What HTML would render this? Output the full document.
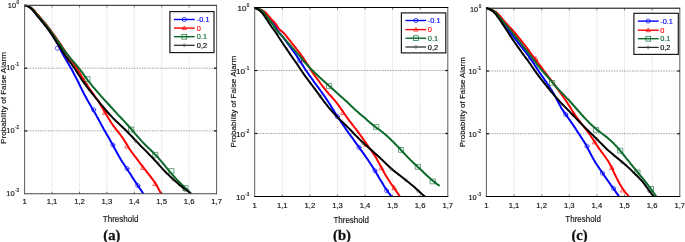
<!DOCTYPE html>
<html lang="en"><head><meta charset="utf-8"><title>Probability of False Alarm vs Threshold</title>
<style>html,body{margin:0;padding:0;background:#fff}body{width:685px;height:242px;overflow:hidden}svg{display:block}</style>
</head><body>
<svg width="685" height="242" viewBox="0 0 685 242" font-family="'Liberation Sans', Arial, sans-serif">
<rect width="685" height="242" fill="#fff"/>
<line x1="52" y1="5.4" x2="52" y2="193.7" stroke="#a8a8a8" stroke-width="0.55" stroke-dasharray="0.8 1.3"/>
<line x1="79.5" y1="5.4" x2="79.5" y2="193.7" stroke="#a8a8a8" stroke-width="0.55" stroke-dasharray="0.8 1.3"/>
<line x1="106.9" y1="5.4" x2="106.9" y2="193.7" stroke="#a8a8a8" stroke-width="0.55" stroke-dasharray="0.8 1.3"/>
<line x1="134.3" y1="5.4" x2="134.3" y2="193.7" stroke="#a8a8a8" stroke-width="0.55" stroke-dasharray="0.8 1.3"/>
<line x1="161.7" y1="5.4" x2="161.7" y2="193.7" stroke="#a8a8a8" stroke-width="0.55" stroke-dasharray="0.8 1.3"/>
<line x1="189.2" y1="5.4" x2="189.2" y2="193.7" stroke="#a8a8a8" stroke-width="0.55" stroke-dasharray="0.8 1.3"/>
<line x1="24.6" y1="68.2" x2="216.6" y2="68.2" stroke="#6e6e6e" stroke-width="0.6" stroke-dasharray="1.6 1"/>
<line x1="24.6" y1="130.9" x2="216.6" y2="130.9" stroke="#6e6e6e" stroke-width="0.6" stroke-dasharray="1.6 1"/>
<clipPath id="cp0"><rect x="24.6" y="4.4" width="192" height="189.7"/></clipPath>
<g clip-path="url(#cp0)" fill="none" stroke-linejoin="round" stroke-linecap="round">
<path d="M24.8 5.4 L26.7 5.9 L28.6 6.7 L30.3 7.7 L31.8 8.9 L33.2 10.3 L34.5 11.9 L35.7 13.5 L37 15 L38.3 16.6 L39.6 18.1 L40.9 19.6 L42.1 21.2 L43.4 22.7 L44.6 24.3 L45.9 25.9 L47.1 27.5 L48.3 29.1 L49.4 30.7 L50.6 32.4 L51.7 34 L52.8 35.7 L53.9 37.4 L54.9 39.1 L55.9 40.8 L56.8 42.6 L57.8 44.3 L58.7 46.1 L59.6 47.9 L60.5 49.7 L61.4 51.5 L62.4 53.2 L63.3 55 L64.3 56.7 L65.3 58.5 L66.3 60.2 L67.3 61.9 L68.3 63.6 L69.3 65.4 L70.3 67.1 L71.3 68.8 L72.3 70.6 L73.2 72.3 L74.1 74.1 L75.1 75.9 L76 77.7 L76.9 79.4 L77.8 81.2 L78.7 83 L79.5 84.8 L80.4 86.6 L81.3 88.4 L82.2 90.2 L83.1 92 L84 93.8 L84.9 95.5 L85.9 97.3 L86.8 99 L87.8 100.8 L88.8 102.5 L89.8 104.3 L90.8 106 L91.8 107.7 L92.9 109.4 L93.9 111.2 L94.9 112.9 L95.9 114.6 L96.8 116.4 L97.8 118.1 L98.8 119.9 L99.7 121.6 L100.7 123.4 L101.6 125.2 L102.6 126.9 L103.5 128.7 L104.5 130.4 L105.5 132.1 L106.5 133.9 L107.5 135.6 L108.5 137.3 L109.5 139.1 L110.4 140.8 L111.4 142.6 L112.4 144.3 L113.4 146.1 L114.3 147.8 L115.2 149.6 L116.2 151.3 L117.1 153.1 L118.1 154.8 L119.1 156.6 L120.1 158.3 L121.1 160 L122.2 161.7 L123.3 163.3 L124.4 165 L125.5 166.7 L126.6 168.3 L127.7 170 L128.8 171.7 L129.9 173.3 L131 175 L132 176.7 L133.1 178.4 L134.2 180.1 L135.3 181.7 L136.4 183.4 L137.4 185 L138.5 186.6 L139.6 188.2 L140.6 189.7 L141.7 191.2 L142.7 192.7 L143.2 193.5" stroke="#0000ff" stroke-width="2"/>
<circle cx="57.4" cy="48.3" r="2.1" fill="none" stroke="#0000ff" stroke-width="0.6"/>
<circle cx="93.6" cy="109.7" r="2.1" fill="none" stroke="#0000ff" stroke-width="0.6"/>
<circle cx="112.8" cy="145" r="2.1" fill="none" stroke="#0000ff" stroke-width="0.6"/>
<circle cx="127" cy="168.5" r="2.1" fill="none" stroke="#0000ff" stroke-width="0.6"/>
<circle cx="137.8" cy="185.5" r="2.1" fill="none" stroke="#0000ff" stroke-width="0.6"/>
<path d="M24.8 5.4 L26.8 5.8 L28.7 6.4 L30.4 7.3 L32 8.4 L33.5 9.7 L34.8 11.2 L36.1 12.8 L37.4 14.3 L38.8 15.8 L40.1 17.3 L41.4 18.8 L42.7 20.3 L44 21.9 L45.3 23.4 L46.6 25 L47.8 26.5 L49 28.1 L50.3 29.7 L51.4 31.3 L52.6 32.9 L53.8 34.6 L54.9 36.2 L56.1 37.8 L57.2 39.5 L58.3 41.1 L59.5 42.8 L60.6 44.4 L61.7 46.1 L62.8 47.8 L63.9 49.4 L65 51.1 L66.2 52.8 L67.3 54.4 L68.4 56 L69.6 57.7 L70.7 59.3 L71.9 61 L73 62.6 L74.1 64.2 L75.3 65.9 L76.4 67.5 L77.4 69.2 L78.5 70.9 L79.5 72.6 L80.5 74.3 L81.5 76.1 L82.6 77.8 L83.6 79.5 L84.6 81.2 L85.7 82.9 L86.8 84.6 L87.8 86.3 L88.9 87.9 L90.1 89.6 L91.2 91.2 L92.4 92.8 L93.5 94.4 L94.7 96.1 L95.8 97.7 L97 99.3 L98.1 101 L99.2 102.7 L100.2 104.4 L101.3 106.1 L102.3 107.8 L103.3 109.5 L104.3 111.2 L105.4 112.9 L106.4 114.7 L107.4 116.4 L108.4 118.1 L109.4 119.8 L110.5 121.5 L111.6 123.2 L112.7 124.8 L113.9 126.4 L115.1 128 L116.3 129.6 L117.5 131.1 L118.7 132.6 L120 134.2 L121.1 135.8 L122.3 137.4 L123.4 139 L124.5 140.7 L125.5 142.4 L126.6 144.1 L127.6 145.8 L128.6 147.5 L129.7 149.2 L130.8 150.8 L132 152.5 L133.2 154.1 L134.4 155.7 L135.6 157.2 L136.8 158.8 L138 160.4 L139.2 162 L140.4 163.6 L141.6 165.2 L142.8 166.8 L144 168.4 L145.3 169.9 L146.5 171.5 L147.8 173.1 L149 174.6 L150.2 176.2 L151.4 177.8 L152.6 179.4 L153.8 181 L154.9 182.6 L155.9 184.3 L156.9 185.9 L157.8 187.5 L158.7 189.2 L159.5 190.8 L160.3 192.4 L160.7 193.2" stroke="#ff0000" stroke-width="2"/>
<path d="M67.7 61.3 L71.9 61.3 L69.8 57.6 Z" fill="none" stroke="#ff0000" stroke-width="0.6"/>
<path d="M102.9 114.5 L107.1 114.5 L105 110.8 Z" fill="none" stroke="#ff0000" stroke-width="0.6"/>
<path d="M125.1 148 L129.3 148 L127.2 144.3 Z" fill="none" stroke="#ff0000" stroke-width="0.6"/>
<path d="M141.1 169.5 L145.3 169.5 L143.2 165.8 Z" fill="none" stroke="#ff0000" stroke-width="0.6"/>
<path d="M153.2 185.5 L157.4 185.5 L155.3 181.8 Z" fill="none" stroke="#ff0000" stroke-width="0.6"/>
<path d="M24.8 5.4 L26.8 5.8 L28.6 6.5 L30.4 7.4 L31.9 8.6 L33.3 10 L34.7 11.5 L36 13.1 L37.3 14.6 L38.6 16.1 L39.9 17.7 L41.2 19.2 L42.5 20.7 L43.8 22.2 L45 23.8 L46.3 25.4 L47.5 26.9 L48.7 28.5 L50 30.1 L51.1 31.7 L52.3 33.3 L53.5 35 L54.6 36.6 L55.8 38.2 L56.9 39.9 L58.1 41.5 L59.2 43.2 L60.4 44.8 L61.5 46.4 L62.7 48.1 L63.8 49.7 L65 51.3 L66.2 52.9 L67.4 54.5 L68.7 56 L69.9 57.6 L71.2 59.1 L72.5 60.7 L73.8 62.2 L75.1 63.7 L76.4 65.2 L77.7 66.7 L78.9 68.3 L80.2 69.8 L81.4 71.4 L82.6 73 L83.7 74.7 L84.9 76.3 L86.1 77.9 L87.2 79.5 L88.4 81.1 L89.7 82.7 L90.9 84.2 L92.2 85.8 L93.5 87.3 L94.8 88.8 L96.1 90.3 L97.4 91.9 L98.7 93.4 L100 94.9 L101.3 96.4 L102.7 97.9 L104 99.4 L105.3 100.9 L106.7 102.3 L108 103.8 L109.4 105.3 L110.7 106.7 L112.1 108.2 L113.4 109.7 L114.8 111.2 L116.1 112.6 L117.5 114.1 L118.8 115.6 L120.2 117 L121.6 118.5 L122.9 119.9 L124.3 121.4 L125.7 122.8 L127 124.3 L128.4 125.8 L129.7 127.3 L131.1 128.8 L132.4 130.3 L133.6 131.8 L134.9 133.4 L136.2 134.9 L137.5 136.4 L138.8 137.9 L140.1 139.4 L141.4 140.9 L142.8 142.4 L144.2 143.8 L145.6 145.2 L147 146.6 L148.5 148 L149.9 149.3 L151.3 150.7 L152.8 152.1 L154.2 153.6 L155.6 155 L157 156.4 L158.3 157.9 L159.6 159.4 L160.9 160.9 L162.2 162.4 L163.5 164 L164.8 165.5 L166 167.1 L167.3 168.6 L168.5 170.1 L169.8 171.7 L171.1 173.2 L172.4 174.7 L173.8 176.2 L175.1 177.7 L176.4 179.2 L177.8 180.6 L179.2 182 L180.6 183.4 L182 184.8 L183.4 186.2 L184.7 187.5 L186.1 188.8 L187.4 190 L188.7 191.3 L190 192.5 L190 192.5" stroke="#0b6a2b" stroke-width="2"/>
<rect x="85.2" y="76.6" width="4.8" height="4.8" fill="none" stroke="#0b6a2b" stroke-width="0.6"/>
<rect x="128.9" y="127.1" width="4.8" height="4.8" fill="none" stroke="#0b6a2b" stroke-width="0.6"/>
<rect x="153.1" y="152.4" width="4.8" height="4.8" fill="none" stroke="#0b6a2b" stroke-width="0.6"/>
<rect x="169.1" y="168.6" width="4.8" height="4.8" fill="none" stroke="#0b6a2b" stroke-width="0.6"/>
<rect x="183.1" y="185.6" width="4.8" height="4.8" fill="none" stroke="#0b6a2b" stroke-width="0.6"/>
<path d="M24.8 5.4 L26.7 5.9 L28.6 6.7 L30.2 7.8 L31.7 9.1 L33 10.5 L34.3 12.1 L35.6 13.7 L36.8 15.3 L38.1 16.8 L39.4 18.4 L40.6 19.9 L41.9 21.5 L43.1 23 L44.4 24.6 L45.6 26.2 L46.9 27.7 L48.1 29.3 L49.3 30.9 L50.4 32.6 L51.5 34.2 L52.6 35.9 L53.7 37.6 L54.7 39.3 L55.8 41 L56.9 42.7 L58 44.4 L59.1 46 L60.2 47.7 L61.3 49.4 L62.4 51.1 L63.5 52.7 L64.6 54.4 L65.7 56 L66.9 57.6 L68.1 59.3 L69.2 60.9 L70.4 62.5 L71.6 64.1 L72.7 65.7 L73.9 67.4 L75 69 L76.1 70.7 L77.2 72.4 L78.2 74.1 L79.3 75.7 L80.4 77.4 L81.4 79.1 L82.5 80.8 L83.7 82.4 L84.8 84 L86 85.6 L87.2 87.2 L88.5 88.8 L89.7 90.3 L90.9 91.9 L92.2 93.5 L93.4 95 L94.7 96.6 L95.9 98.2 L97.2 99.7 L98.5 101.2 L99.8 102.8 L101 104.3 L102.3 105.9 L103.6 107.4 L104.9 108.9 L106.1 110.5 L107.4 112 L108.8 113.5 L110.1 115 L111.5 116.4 L112.8 117.9 L114.2 119.3 L115.7 120.7 L117.1 122.1 L118.6 123.4 L120 124.8 L121.5 126.2 L122.9 127.5 L124.4 128.9 L125.8 130.3 L127.2 131.7 L128.6 133.2 L130 134.6 L131.4 136 L132.8 137.5 L134.1 139 L135.5 140.4 L136.9 141.9 L138.3 143.3 L139.7 144.7 L141.1 146.2 L142.5 147.6 L143.9 149 L145.3 150.4 L146.7 151.8 L148.1 153.2 L149.5 154.7 L150.9 156.1 L152.3 157.5 L153.7 159 L155 160.5 L156.4 161.9 L157.7 163.4 L159 164.9 L160.3 166.4 L161.7 167.9 L163 169.4 L164.4 170.8 L165.8 172.2 L167.2 173.7 L168.7 175 L170.1 176.4 L171.6 177.8 L173.1 179.1 L174.5 180.5 L176 181.8 L177.5 183.1 L179 184.4 L180.5 185.7 L182.1 186.9 L183.6 188.1 L185.1 189.3 L186.7 190.4 L188.2 191.4 L189.7 192.5 L190.5 193" stroke="#000000" stroke-width="2"/>
<path d="M85.7 84.7 L87 82.9 L88.3 84.7 L87 86.5 Z" fill="none" stroke="#444" stroke-width="0.5"/>
<path d="M134.7 141 L136 139.2 L137.3 141 L136 142.8 Z" fill="none" stroke="#444" stroke-width="0.5"/>
<path d="M156.7 163 L158 161.2 L159.3 163 L158 164.8 Z" fill="none" stroke="#444" stroke-width="0.5"/>
<path d="M171.7 179 L173 177.2 L174.3 179 L173 180.8 Z" fill="none" stroke="#444" stroke-width="0.5"/>
<path d="M183.7 190 L185 188.2 L186.3 190 L185 191.8 Z" fill="none" stroke="#444" stroke-width="0.5"/>
</g>
<path d="M24.6 4.9 V194.2 M216.6 4.9 V194.2" fill="none" stroke="#4a4a4a" stroke-width="0.9"/>
<path d="M24.2 5.4 H217 M24.2 193.7 H217" fill="none" stroke="#4a4a4a" stroke-width="1.1"/>
<line x1="52" y1="193.7" x2="52" y2="191.7" stroke="#3a3a3a" stroke-width="0.7"/>
<line x1="52" y1="5.4" x2="52" y2="7.4" stroke="#3a3a3a" stroke-width="0.7"/>
<line x1="79.5" y1="193.7" x2="79.5" y2="191.7" stroke="#3a3a3a" stroke-width="0.7"/>
<line x1="79.5" y1="5.4" x2="79.5" y2="7.4" stroke="#3a3a3a" stroke-width="0.7"/>
<line x1="106.9" y1="193.7" x2="106.9" y2="191.7" stroke="#3a3a3a" stroke-width="0.7"/>
<line x1="106.9" y1="5.4" x2="106.9" y2="7.4" stroke="#3a3a3a" stroke-width="0.7"/>
<line x1="134.3" y1="193.7" x2="134.3" y2="191.7" stroke="#3a3a3a" stroke-width="0.7"/>
<line x1="134.3" y1="5.4" x2="134.3" y2="7.4" stroke="#3a3a3a" stroke-width="0.7"/>
<line x1="161.7" y1="193.7" x2="161.7" y2="191.7" stroke="#3a3a3a" stroke-width="0.7"/>
<line x1="161.7" y1="5.4" x2="161.7" y2="7.4" stroke="#3a3a3a" stroke-width="0.7"/>
<line x1="189.2" y1="193.7" x2="189.2" y2="191.7" stroke="#3a3a3a" stroke-width="0.7"/>
<line x1="189.2" y1="5.4" x2="189.2" y2="7.4" stroke="#3a3a3a" stroke-width="0.7"/>
<line x1="24.6" y1="68.2" x2="27.2" y2="68.2" stroke="#111" stroke-width="1.2"/>
<line x1="216.6" y1="68.2" x2="214" y2="68.2" stroke="#111" stroke-width="1.2"/>
<line x1="24.6" y1="130.9" x2="27.2" y2="130.9" stroke="#111" stroke-width="1.2"/>
<line x1="216.6" y1="130.9" x2="214" y2="130.9" stroke="#111" stroke-width="1.2"/>
<text x="24.6" y="204.4" font-size="7.7" text-anchor="middle" fill="#111" stroke="#111" stroke-width="0.15">1</text>
<text x="52" y="204.4" font-size="7.7" text-anchor="middle" fill="#111" stroke="#111" stroke-width="0.15">1,1</text>
<text x="79.5" y="204.4" font-size="7.7" text-anchor="middle" fill="#111" stroke="#111" stroke-width="0.15">1,2</text>
<text x="106.9" y="204.4" font-size="7.7" text-anchor="middle" fill="#111" stroke="#111" stroke-width="0.15">1,3</text>
<text x="134.3" y="204.4" font-size="7.7" text-anchor="middle" fill="#111" stroke="#111" stroke-width="0.15">1,4</text>
<text x="161.7" y="204.4" font-size="7.7" text-anchor="middle" fill="#111" stroke="#111" stroke-width="0.15">1,5</text>
<text x="189.2" y="204.4" font-size="7.7" text-anchor="middle" fill="#111" stroke="#111" stroke-width="0.15">1,6</text>
<text x="216.6" y="204.4" font-size="7.7" text-anchor="middle" fill="#111" stroke="#111" stroke-width="0.15">1,7</text>
<text x="16.1" y="7.5" font-size="7.4" text-anchor="end" fill="#111" stroke="#111" stroke-width="0.15">10</text>
<text x="19" y="3.5" font-size="4.5" text-anchor="end" fill="#111" stroke="#111" stroke-width="0.15">0</text>
<text x="14.6" y="70.3" font-size="7.4" text-anchor="end" fill="#111" stroke="#111" stroke-width="0.15">10</text>
<text x="19" y="66.3" font-size="4.5" text-anchor="end" fill="#111" stroke="#111" stroke-width="0.15">-1</text>
<text x="14.6" y="133" font-size="7.4" text-anchor="end" fill="#111" stroke="#111" stroke-width="0.15">10</text>
<text x="19" y="129" font-size="4.5" text-anchor="end" fill="#111" stroke="#111" stroke-width="0.15">-2</text>
<text x="14.6" y="195.8" font-size="7.4" text-anchor="end" fill="#111" stroke="#111" stroke-width="0.15">10</text>
<text x="19" y="191.8" font-size="4.5" text-anchor="end" fill="#111" stroke="#111" stroke-width="0.15">-3</text>
<text transform="translate(120.6 221.7) scale(0.955 1)" font-size="8.4" text-anchor="middle" fill="#111" stroke="#111" stroke-width="0.15">Threshold</text>
<text transform="translate(5.9 98) rotate(-90)" font-size="8.1" text-anchor="middle" fill="#111" stroke="#111" stroke-width="0.15">Probability of False Alarm</text>
<rect x="169.9" y="11.6" width="44.1" height="41" fill="#fff" stroke="#1a1a1a" stroke-width="1.2"/>
<line x1="174" y1="19.5" x2="194.7" y2="19.5" stroke="#0000ff" stroke-width="1.4"/>
<circle cx="184.3" cy="19.5" r="2.1" fill="none" stroke="#0000ff" stroke-width="0.7"/>
<text x="196.8" y="22.2" font-size="7.4" fill="#0000ff" stroke="#0000ff" stroke-width="0.15">-0.1</text>
<line x1="174" y1="28.1" x2="194.7" y2="28.1" stroke="#ff0000" stroke-width="1.4"/>
<path d="M182.2 29.6 L186.4 29.6 L184.3 25.9 Z" fill="none" stroke="#ff0000" stroke-width="0.7"/>
<text x="196.8" y="30.8" font-size="7.4" fill="#ff0000" stroke="#ff0000" stroke-width="0.15">0</text>
<line x1="174" y1="36.7" x2="194.7" y2="36.7" stroke="#0b6a2b" stroke-width="1.4"/>
<rect x="181.9" y="34.3" width="4.8" height="4.8" fill="none" stroke="#0b6a2b" stroke-width="0.7"/>
<text x="196.8" y="39.4" font-size="7.4" fill="#0b6a2b" stroke="#0b6a2b" stroke-width="0.15">0.1</text>
<line x1="174" y1="45.3" x2="194.7" y2="45.3" stroke="#2a2a2a" stroke-width="1.25"/>
<path d="M183 45.3 L184.3 43.5 L185.7 45.3 L184.3 47.1 Z" fill="none" stroke="#444" stroke-width="0.5"/>
<text x="196.8" y="48" font-size="7.4" fill="#000000" stroke="#000000" stroke-width="0.15">0,2</text>
<text x="111.8" y="240.2" font-family="'Liberation Serif', 'Times New Roman', serif" font-weight="bold" font-size="14.6" text-anchor="middle" fill="#111" stroke="#111" stroke-width="0.3">(a)</text>
<line x1="282.3" y1="7.5" x2="282.3" y2="196.5" stroke="#a8a8a8" stroke-width="0.55" stroke-dasharray="0.8 1.3"/>
<line x1="309.9" y1="7.5" x2="309.9" y2="196.5" stroke="#a8a8a8" stroke-width="0.55" stroke-dasharray="0.8 1.3"/>
<line x1="337.5" y1="7.5" x2="337.5" y2="196.5" stroke="#a8a8a8" stroke-width="0.55" stroke-dasharray="0.8 1.3"/>
<line x1="365" y1="7.5" x2="365" y2="196.5" stroke="#a8a8a8" stroke-width="0.55" stroke-dasharray="0.8 1.3"/>
<line x1="392.6" y1="7.5" x2="392.6" y2="196.5" stroke="#a8a8a8" stroke-width="0.55" stroke-dasharray="0.8 1.3"/>
<line x1="420.2" y1="7.5" x2="420.2" y2="196.5" stroke="#a8a8a8" stroke-width="0.55" stroke-dasharray="0.8 1.3"/>
<line x1="254.7" y1="70.5" x2="447.8" y2="70.5" stroke="#6e6e6e" stroke-width="0.6" stroke-dasharray="1.6 1"/>
<line x1="254.7" y1="133.5" x2="447.8" y2="133.5" stroke="#6e6e6e" stroke-width="0.6" stroke-dasharray="1.6 1"/>
<clipPath id="cp1"><rect x="254.7" y="6.5" width="193.1" height="190.4"/></clipPath>
<g clip-path="url(#cp1)" fill="none" stroke-linejoin="round" stroke-linecap="round">
<path d="M254.7 7.9 L256.7 8.5 L258.6 9.1 L260.4 10 L262 10.9 L263.5 12.2 L264.9 13.6 L266.2 15.2 L267.5 16.8 L268.8 18.3 L270.1 19.8 L271.5 21.4 L272.8 22.9 L274 24.4 L275.2 26.1 L276.2 27.8 L277.2 29.5 L278.2 31.2 L279.4 32.8 L280.7 34.4 L281.9 35.9 L283.2 37.5 L284.4 39.1 L285.6 40.7 L286.8 42.3 L288 43.9 L289.2 45.5 L290.4 47.1 L291.5 48.7 L292.7 50.3 L293.9 51.9 L295.1 53.6 L296.2 55.2 L297.3 56.9 L298.4 58.6 L299.5 60.2 L300.5 61.9 L301.6 63.6 L302.7 65.3 L303.8 67 L304.8 68.7 L305.9 70.3 L307.1 72 L308.2 73.6 L309.3 75.3 L310.5 76.9 L311.7 78.5 L312.9 80.1 L314 81.8 L315.2 83.4 L316.4 85 L317.6 86.6 L318.8 88.2 L319.9 89.8 L321.1 91.5 L322.3 93.1 L323.4 94.7 L324.6 96.3 L325.7 98 L326.8 99.6 L327.9 101.3 L329 103 L330.1 104.7 L331.2 106.4 L332.2 108.1 L333.3 109.8 L334.3 111.5 L335.4 113.2 L336.4 114.9 L337.5 116.5 L338.6 118.2 L339.7 119.9 L340.8 121.6 L341.9 123.2 L343 124.9 L344.2 126.5 L345.3 128.2 L346.4 129.8 L347.6 131.4 L348.7 133.1 L349.9 134.7 L351.1 136.3 L352.3 137.9 L353.5 139.5 L354.6 141.1 L355.8 142.8 L357 144.4 L358.1 146 L359.3 147.6 L360.4 149.3 L361.6 150.9 L362.8 152.5 L363.9 154.1 L365.1 155.8 L366.2 157.4 L367.4 159 L368.5 160.7 L369.6 162.4 L370.7 164 L371.8 165.7 L372.9 167.4 L373.9 169.1 L375 170.8 L376 172.5 L377 174.2 L378.1 175.9 L379.1 177.7 L380.1 179.4 L381.1 181.1 L382.2 182.8 L383.2 184.5 L384.2 186.2 L385.3 187.9 L386.3 189.5 L387.4 191.1 L388.5 192.6 L389.7 194.1 L390.8 195.6 L391.4 196.3" stroke="#0000ff" stroke-width="2"/>
<circle cx="299.8" cy="60.6" r="2.1" fill="none" stroke="#0000ff" stroke-width="0.6"/>
<circle cx="337.3" cy="116.5" r="2.1" fill="none" stroke="#0000ff" stroke-width="0.6"/>
<circle cx="359" cy="147.4" r="2.1" fill="none" stroke="#0000ff" stroke-width="0.6"/>
<circle cx="374.9" cy="170.7" r="2.1" fill="none" stroke="#0000ff" stroke-width="0.6"/>
<circle cx="386.5" cy="190.6" r="2.1" fill="none" stroke="#0000ff" stroke-width="0.6"/>
<path d="M254.7 7.9 L256.8 8.3 L258.8 8.8 L260.6 9.5 L262.4 10.3 L264 11.3 L265.5 12.5 L266.9 14 L268.2 15.6 L269.6 17.1 L270.9 18.6 L272.3 20.1 L273.7 21.5 L275 23.1 L276.2 24.6 L277.3 26.3 L278.4 28 L279.6 29.5 L281.1 30.8 L282.7 32.1 L284.1 33.4 L285.4 34.9 L286.6 36.5 L287.9 38.1 L289.1 39.7 L290.4 41.2 L291.6 42.8 L292.9 44.3 L294.1 45.9 L295.4 47.5 L296.6 49 L297.8 50.6 L299.1 52.2 L300.3 53.8 L301.4 55.4 L302.6 57 L303.7 58.7 L304.8 60.4 L305.9 62 L307 63.7 L308 65.4 L309.1 67.1 L310.1 68.8 L311.2 70.5 L312.3 72.1 L313.5 73.8 L314.6 75.4 L315.8 77 L317 78.6 L318.2 80.2 L319.3 81.8 L320.5 83.5 L321.7 85 L323 86.6 L324.2 88.2 L325.5 89.8 L326.7 91.3 L328 92.8 L329.3 94.3 L330.6 95.8 L332 97.3 L333.3 98.8 L334.6 100.3 L335.9 101.9 L337.1 103.4 L338.3 105 L339.5 106.6 L340.6 108.2 L341.8 109.9 L342.9 111.5 L344 113.2 L345.1 114.8 L346.3 116.5 L347.5 118.1 L348.6 119.7 L349.8 121.3 L351 122.9 L352.3 124.5 L353.5 126 L354.7 127.6 L356 129.2 L357.2 130.8 L358.4 132.4 L359.6 134 L360.7 135.6 L361.9 137.2 L363 138.9 L364.1 140.5 L365.3 142.1 L366.4 143.8 L367.6 145.4 L368.7 147 L369.9 148.5 L371.1 150.1 L372.2 151.8 L373.3 153.4 L374.4 155.1 L375.5 156.7 L376.5 158.5 L377.4 160.2 L378.4 162 L379.4 163.7 L380.3 165.5 L381.3 167.2 L382.2 169 L383.2 170.7 L384.1 172.5 L385.1 174.2 L386.1 175.9 L387.2 177.7 L388.2 179.3 L389.3 181 L390.4 182.7 L391.5 184.3 L392.7 185.9 L393.8 187.5 L394.9 189.2 L396 190.8 L397.1 192.3 L398.1 193.9 L399.2 195.5 L399.7 196.3" stroke="#ff0000" stroke-width="2"/>
<path d="M301.8 62.1 L306 62.1 L303.9 58.4 Z" fill="none" stroke="#ff0000" stroke-width="0.6"/>
<path d="M341 114.5 L345.2 114.5 L343.1 110.8 Z" fill="none" stroke="#ff0000" stroke-width="0.6"/>
<path d="M364.3 146.4 L368.5 146.4 L366.4 142.7 Z" fill="none" stroke="#ff0000" stroke-width="0.6"/>
<path d="M379.4 169.8 L383.6 169.8 L381.5 166.1 Z" fill="none" stroke="#ff0000" stroke-width="0.6"/>
<path d="M392.3 189.6 L396.5 189.6 L394.4 185.9 Z" fill="none" stroke="#ff0000" stroke-width="0.6"/>
<path d="M254.7 7.9 L256.8 8.3 L258.7 8.8 L260.4 9.6 L262 10.6 L263.3 12 L264.6 13.6 L265.9 15.3 L267.1 17 L268.4 18.5 L269.6 20.1 L270.8 21.7 L272 23.3 L273.2 24.9 L274.3 26.6 L275.4 28.2 L276.6 29.9 L277.8 31.4 L279.1 32.9 L280.5 34.4 L281.9 35.8 L283.3 37.3 L284.6 38.8 L285.9 40.3 L287.2 41.8 L288.5 43.3 L289.8 44.8 L291.2 46.3 L292.5 47.8 L293.8 49.3 L295.1 50.8 L296.4 52.4 L297.7 53.9 L299.1 55.4 L300.4 56.9 L301.7 58.4 L302.9 59.9 L304.2 61.5 L305.5 63 L306.8 64.5 L308.2 66 L309.5 67.5 L310.9 68.9 L312.3 70.3 L313.7 71.7 L315.1 73.1 L316.6 74.5 L318 75.8 L319.5 77.2 L321 78.5 L322.5 79.9 L323.9 81.2 L325.4 82.6 L326.9 83.9 L328.4 85.2 L329.9 86.6 L331.4 87.9 L332.9 89.2 L334.4 90.6 L335.9 91.9 L337.4 93.2 L338.8 94.6 L340.3 95.9 L341.8 97.2 L343.3 98.6 L344.8 99.9 L346.3 101.3 L347.7 102.6 L349.2 104 L350.6 105.4 L352.1 106.7 L353.5 108.1 L354.9 109.5 L356.4 110.8 L357.9 112.1 L359.4 113.4 L360.9 114.7 L362.5 116 L364 117.3 L365.5 118.6 L367 119.9 L368.5 121.3 L370 122.6 L371.5 123.8 L373.1 125.1 L374.6 126.3 L376.2 127.5 L377.8 128.7 L379.4 129.8 L381 131 L382.6 132.2 L384.1 133.5 L385.6 134.7 L387.1 136.1 L388.6 137.4 L390 138.8 L391.4 140.2 L392.9 141.6 L394.3 143 L395.7 144.5 L397.1 145.9 L398.5 147.3 L399.9 148.8 L401.2 150.2 L402.6 151.7 L404 153.2 L405.3 154.6 L406.7 156.1 L408 157.5 L409.4 158.9 L410.9 160.4 L412.3 161.7 L413.7 163.1 L415.2 164.5 L416.7 165.8 L418.1 167.2 L419.6 168.5 L421.1 169.9 L422.5 171.3 L423.9 172.7 L425.4 174.1 L426.8 175.4 L428.3 176.8 L429.7 178.1 L431.2 179.4 L432.7 180.7 L434.3 181.9 L435.8 183.1 L437.3 184.3 L438.9 185.4 L438.9 185.4" stroke="#0b6a2b" stroke-width="2"/>
<rect x="326.9" y="83.6" width="4.8" height="4.8" fill="none" stroke="#0b6a2b" stroke-width="0.6"/>
<rect x="374" y="124.6" width="4.8" height="4.8" fill="none" stroke="#0b6a2b" stroke-width="0.6"/>
<rect x="398.8" y="147.5" width="4.8" height="4.8" fill="none" stroke="#0b6a2b" stroke-width="0.6"/>
<rect x="415.6" y="164.4" width="4.8" height="4.8" fill="none" stroke="#0b6a2b" stroke-width="0.6"/>
<rect x="430.5" y="179" width="4.8" height="4.8" fill="none" stroke="#0b6a2b" stroke-width="0.6"/>
<path d="M254.7 7.9 L256.6 8.7 L258.3 9.7 L259.9 10.8 L261.3 12.1 L262.6 13.6 L263.9 15.2 L265 16.9 L266.2 18.6 L267.3 20.2 L268.4 21.9 L269.5 23.6 L270.6 25.3 L271.7 27 L272.9 28.6 L274.1 30.1 L275.3 31.7 L276.4 33.4 L277.5 35.1 L278.5 36.8 L279.6 38.5 L280.7 40.1 L281.8 41.8 L282.9 43.5 L284 45.1 L285.2 46.8 L286.3 48.4 L287.4 50.1 L288.5 51.8 L289.6 53.4 L290.7 55.1 L291.9 56.7 L293 58.4 L294.2 60 L295.3 61.6 L296.5 63.2 L297.6 64.9 L298.7 66.5 L299.8 68.2 L300.9 69.8 L302 71.5 L303.1 73.1 L304.3 74.8 L305.4 76.4 L306.6 78 L307.8 79.6 L309 81.2 L310.2 82.8 L311.4 84.4 L312.6 86 L313.8 87.6 L315 89.2 L316.2 90.8 L317.4 92.4 L318.6 94 L319.7 95.7 L320.9 97.3 L322.1 98.9 L323.3 100.5 L324.5 102.1 L325.7 103.7 L326.9 105.2 L328.2 106.8 L329.5 108.3 L330.8 109.8 L332.1 111.3 L333.4 112.8 L334.8 114.3 L336.1 115.8 L337.5 117.2 L338.9 118.6 L340.3 120 L341.8 121.4 L343.2 122.8 L344.6 124.2 L346.1 125.6 L347.5 127 L348.9 128.4 L350.3 129.8 L351.7 131.3 L353.1 132.7 L354.5 134.2 L355.9 135.6 L357.3 137 L358.7 138.5 L360.1 139.9 L361.5 141.3 L363 142.6 L364.4 144 L365.9 145.3 L367.4 146.6 L368.9 148 L370.4 149.3 L371.9 150.6 L373.4 151.9 L374.9 153.2 L376.4 154.6 L377.9 155.9 L379.4 157.3 L380.8 158.7 L382.3 160 L383.7 161.4 L385.1 162.8 L386.6 164.2 L388 165.6 L389.5 166.9 L391 168.3 L392.5 169.6 L394 170.9 L395.5 172.1 L397.1 173.3 L398.7 174.6 L400.3 175.8 L401.9 177 L403.5 178.2 L405 179.5 L406.6 180.7 L408.2 182 L409.7 183.2 L411.2 184.5 L412.8 185.8 L414.3 187.1 L415.8 188.4 L417.2 189.7 L418.7 191 L420.2 192.4 L421.6 193.7 L423.1 195 L424.5 196.3 L424.5 196.3" stroke="#000000" stroke-width="2"/>
<path d="M319.2 96 L320.5 94.2 L321.8 96 L320.5 97.8 Z" fill="none" stroke="#444" stroke-width="0.5"/>
<path d="M361.7 143 L363 141.2 L364.3 143 L363 144.8 Z" fill="none" stroke="#444" stroke-width="0.5"/>
<path d="M389.7 169 L391 167.2 L392.3 169 L391 170.8 Z" fill="none" stroke="#444" stroke-width="0.5"/>
<path d="M404.7 180 L406 178.2 L407.3 180 L406 181.8 Z" fill="none" stroke="#444" stroke-width="0.5"/>
<path d="M416.7 190.5 L418 188.7 L419.3 190.5 L418 192.3 Z" fill="none" stroke="#444" stroke-width="0.5"/>
</g>
<path d="M254.7 7 V197 M447.8 7 V197" fill="none" stroke="#333" stroke-width="0.8"/>
<path d="M254.3 7.5 H448.2 M254.3 196.5 H448.2" fill="none" stroke="#000" stroke-width="1.0"/>
<line x1="282.3" y1="196.5" x2="282.3" y2="194.5" stroke="#3a3a3a" stroke-width="0.7"/>
<line x1="282.3" y1="7.5" x2="282.3" y2="9.5" stroke="#3a3a3a" stroke-width="0.7"/>
<line x1="309.9" y1="196.5" x2="309.9" y2="194.5" stroke="#3a3a3a" stroke-width="0.7"/>
<line x1="309.9" y1="7.5" x2="309.9" y2="9.5" stroke="#3a3a3a" stroke-width="0.7"/>
<line x1="337.5" y1="196.5" x2="337.5" y2="194.5" stroke="#3a3a3a" stroke-width="0.7"/>
<line x1="337.5" y1="7.5" x2="337.5" y2="9.5" stroke="#3a3a3a" stroke-width="0.7"/>
<line x1="365" y1="196.5" x2="365" y2="194.5" stroke="#3a3a3a" stroke-width="0.7"/>
<line x1="365" y1="7.5" x2="365" y2="9.5" stroke="#3a3a3a" stroke-width="0.7"/>
<line x1="392.6" y1="196.5" x2="392.6" y2="194.5" stroke="#3a3a3a" stroke-width="0.7"/>
<line x1="392.6" y1="7.5" x2="392.6" y2="9.5" stroke="#3a3a3a" stroke-width="0.7"/>
<line x1="420.2" y1="196.5" x2="420.2" y2="194.5" stroke="#3a3a3a" stroke-width="0.7"/>
<line x1="420.2" y1="7.5" x2="420.2" y2="9.5" stroke="#3a3a3a" stroke-width="0.7"/>
<line x1="254.7" y1="70.5" x2="257.3" y2="70.5" stroke="#111" stroke-width="1.2"/>
<line x1="447.8" y1="70.5" x2="445.2" y2="70.5" stroke="#111" stroke-width="1.2"/>
<line x1="254.7" y1="133.5" x2="257.3" y2="133.5" stroke="#111" stroke-width="1.2"/>
<line x1="447.8" y1="133.5" x2="445.2" y2="133.5" stroke="#111" stroke-width="1.2"/>
<text x="254.7" y="208.3" font-size="7.7" text-anchor="middle" fill="#111" stroke="#111" stroke-width="0.15">1</text>
<text x="282.3" y="208.3" font-size="7.7" text-anchor="middle" fill="#111" stroke="#111" stroke-width="0.15">1,1</text>
<text x="309.9" y="208.3" font-size="7.7" text-anchor="middle" fill="#111" stroke="#111" stroke-width="0.15">1,2</text>
<text x="337.5" y="208.3" font-size="7.7" text-anchor="middle" fill="#111" stroke="#111" stroke-width="0.15">1,3</text>
<text x="365" y="208.3" font-size="7.7" text-anchor="middle" fill="#111" stroke="#111" stroke-width="0.15">1,4</text>
<text x="392.6" y="208.3" font-size="7.7" text-anchor="middle" fill="#111" stroke="#111" stroke-width="0.15">1,5</text>
<text x="420.2" y="208.3" font-size="7.7" text-anchor="middle" fill="#111" stroke="#111" stroke-width="0.15">1,6</text>
<text x="447.8" y="208.3" font-size="7.7" text-anchor="middle" fill="#111" stroke="#111" stroke-width="0.15">1,7</text>
<text x="246.4" y="10.7" font-size="8.1" text-anchor="end" fill="#111" stroke="#111" stroke-width="0.15">10</text>
<text x="249.4" y="6.6" font-size="4.6" text-anchor="end" fill="#111" stroke="#111" stroke-width="0.15">0</text>
<text x="244.9" y="73.7" font-size="8.1" text-anchor="end" fill="#111" stroke="#111" stroke-width="0.15">10</text>
<text x="249.4" y="69.6" font-size="4.6" text-anchor="end" fill="#111" stroke="#111" stroke-width="0.15">-1</text>
<text x="244.9" y="136.7" font-size="8.1" text-anchor="end" fill="#111" stroke="#111" stroke-width="0.15">10</text>
<text x="249.4" y="132.6" font-size="4.6" text-anchor="end" fill="#111" stroke="#111" stroke-width="0.15">-2</text>
<text x="244.9" y="199.7" font-size="8.1" text-anchor="end" fill="#111" stroke="#111" stroke-width="0.15">10</text>
<text x="249.4" y="195.6" font-size="4.6" text-anchor="end" fill="#111" stroke="#111" stroke-width="0.15">-3</text>
<text transform="translate(351.2 222.8) scale(0.955 1)" font-size="8.4" text-anchor="middle" fill="#111" stroke="#111" stroke-width="0.15">Threshold</text>
<text transform="translate(235.5 101.6) rotate(-90)" font-size="8.1" text-anchor="middle" fill="#111" stroke="#111" stroke-width="0.15">Probability of False Alarm</text>
<rect x="401.4" y="12.9" width="44.4" height="40" fill="#fff" stroke="#1a1a1a" stroke-width="1.2"/>
<line x1="405.5" y1="20.5" x2="426.2" y2="20.5" stroke="#0000ff" stroke-width="1.4"/>
<circle cx="415.9" cy="20.5" r="2.1" fill="none" stroke="#0000ff" stroke-width="0.7"/>
<text x="427.8" y="23.2" font-size="7.4" fill="#0000ff" stroke="#0000ff" stroke-width="0.15">-0.1</text>
<line x1="405.5" y1="29.6" x2="426.2" y2="29.6" stroke="#ff0000" stroke-width="1.4"/>
<path d="M413.8 31.1 L418 31.1 L415.9 27.4 Z" fill="none" stroke="#ff0000" stroke-width="0.7"/>
<text x="427.8" y="32.3" font-size="7.4" fill="#ff0000" stroke="#ff0000" stroke-width="0.15">0</text>
<line x1="405.5" y1="38.2" x2="426.2" y2="38.2" stroke="#0b6a2b" stroke-width="1.4"/>
<rect x="413.5" y="35.8" width="4.8" height="4.8" fill="none" stroke="#0b6a2b" stroke-width="0.7"/>
<text x="427.8" y="40.9" font-size="7.4" fill="#0b6a2b" stroke="#0b6a2b" stroke-width="0.15">0.1</text>
<line x1="405.5" y1="47" x2="426.2" y2="47" stroke="#2a2a2a" stroke-width="1.25"/>
<path d="M414.6 47 L415.9 45.2 L417.2 47 L415.9 48.8 Z" fill="none" stroke="#444" stroke-width="0.5"/>
<text x="427.8" y="49.7" font-size="7.4" fill="#000000" stroke="#000000" stroke-width="0.15">0,2</text>
<text x="342" y="240.2" font-family="'Liberation Serif', 'Times New Roman', serif" font-weight="bold" font-size="14.6" text-anchor="middle" fill="#111" stroke="#111" stroke-width="0.3">(b)</text>
<line x1="514" y1="8.2" x2="514" y2="196.5" stroke="#a8a8a8" stroke-width="0.55" stroke-dasharray="0.8 1.3"/>
<line x1="541.7" y1="8.2" x2="541.7" y2="196.5" stroke="#a8a8a8" stroke-width="0.55" stroke-dasharray="0.8 1.3"/>
<line x1="569.3" y1="8.2" x2="569.3" y2="196.5" stroke="#a8a8a8" stroke-width="0.55" stroke-dasharray="0.8 1.3"/>
<line x1="596.9" y1="8.2" x2="596.9" y2="196.5" stroke="#a8a8a8" stroke-width="0.55" stroke-dasharray="0.8 1.3"/>
<line x1="624.5" y1="8.2" x2="624.5" y2="196.5" stroke="#a8a8a8" stroke-width="0.55" stroke-dasharray="0.8 1.3"/>
<line x1="652.2" y1="8.2" x2="652.2" y2="196.5" stroke="#a8a8a8" stroke-width="0.55" stroke-dasharray="0.8 1.3"/>
<line x1="486.4" y1="71" x2="679.8" y2="71" stroke="#6e6e6e" stroke-width="0.6" stroke-dasharray="1.6 1"/>
<line x1="486.4" y1="133.7" x2="679.8" y2="133.7" stroke="#6e6e6e" stroke-width="0.6" stroke-dasharray="1.6 1"/>
<clipPath id="cp2"><rect x="486.4" y="7.2" width="193.4" height="189.7"/></clipPath>
<g clip-path="url(#cp2)" fill="none" stroke-linejoin="round" stroke-linecap="round">
<path d="M486.4 8 L488.4 8.7 L490.3 9.4 L492.1 10.3 L493.7 11.3 L495.2 12.5 L496.6 13.9 L497.8 15.4 L499.1 17.1 L500.2 18.8 L501.5 20.4 L502.7 22 L503.9 23.6 L505.1 25.2 L506.3 26.8 L507.4 28.4 L508.6 30 L509.8 31.7 L510.9 33.3 L512.1 34.9 L513.3 36.5 L514.5 38.1 L515.8 39.7 L517 41.2 L518.2 42.8 L519.4 44.4 L520.7 46 L521.9 47.5 L523.2 49.1 L524.4 50.7 L525.7 52.2 L526.9 53.8 L528.1 55.4 L529.3 57 L530.5 58.6 L531.6 60.2 L532.7 61.9 L533.8 63.6 L534.8 65.3 L535.9 66.9 L537 68.6 L538.1 70.3 L539.2 72 L540.3 73.6 L541.5 75.2 L542.6 76.9 L543.8 78.5 L544.9 80.2 L546.1 81.8 L547.2 83.5 L548.3 85.1 L549.4 86.8 L550.5 88.5 L551.6 90.1 L552.6 91.9 L553.6 93.6 L554.6 95.3 L555.5 97.1 L556.5 98.8 L557.4 100.6 L558.3 102.3 L559.2 104.1 L560.2 105.8 L561.1 107.6 L562.2 109.2 L563.3 110.9 L564.4 112.6 L565.5 114.2 L566.7 115.8 L567.9 117.5 L569 119.1 L570.2 120.7 L571.3 122.4 L572.4 124 L573.6 125.7 L574.7 127.4 L575.8 129 L576.9 130.7 L577.9 132.4 L579 134 L580.2 135.7 L581.2 137.4 L582.3 139 L583.4 140.7 L584.5 142.4 L585.5 144.1 L586.5 145.9 L587.4 147.6 L588.3 149.4 L589.3 151.2 L590.2 153 L591.1 154.7 L592 156.5 L593 158.2 L594 160 L595 161.7 L596 163.4 L597.1 165 L598.2 166.7 L599.3 168.4 L600.5 170 L601.6 171.7 L602.7 173.3 L603.8 175 L605 176.6 L606.1 178.3 L607.3 179.9 L608.4 181.5 L609.6 183.2 L610.7 184.8 L611.9 186.4 L613 187.9 L614.2 189.5 L615.2 191 L616.3 192.6 L617.4 194.1 L618.4 195.6 L618.9 196.3" stroke="#0000ff" stroke-width="2"/>
<circle cx="530.6" cy="58.1" r="2.1" fill="none" stroke="#0000ff" stroke-width="0.6"/>
<circle cx="565.7" cy="114.5" r="2.1" fill="none" stroke="#0000ff" stroke-width="0.6"/>
<circle cx="587" cy="146.2" r="2.1" fill="none" stroke="#0000ff" stroke-width="0.6"/>
<circle cx="602.4" cy="173.2" r="2.1" fill="none" stroke="#0000ff" stroke-width="0.6"/>
<circle cx="613.5" cy="188.4" r="2.1" fill="none" stroke="#0000ff" stroke-width="0.6"/>
<path d="M486.4 8 L488.4 8.6 L490.4 9.2 L492.3 10 L494 10.9 L495.7 11.9 L497.2 13 L498.6 14.4 L499.9 15.9 L501.2 17.5 L502.5 19.1 L503.8 20.6 L505.1 22.1 L506.5 23.6 L507.8 25.1 L509.1 26.6 L510.5 28 L511.9 29.5 L513.2 31 L514.5 32.5 L515.8 34 L517.1 35.6 L518.3 37.1 L519.6 38.7 L520.8 40.2 L522.1 41.8 L523.3 43.4 L524.6 44.9 L525.8 46.5 L527 48.1 L528.2 49.7 L529.4 51.3 L530.5 53 L531.7 54.6 L532.9 56.1 L534.2 57.7 L535.4 59.3 L536.6 60.9 L537.8 62.5 L539 64.1 L540.2 65.6 L541.4 67.3 L542.5 68.9 L543.7 70.5 L544.9 72.1 L546.1 73.7 L547.3 75.2 L548.5 76.8 L549.8 78.4 L551 80 L552.2 81.6 L553.4 83.2 L554.5 84.8 L555.7 86.4 L556.9 88.1 L558.1 89.7 L559.3 91.3 L560.4 92.9 L561.6 94.5 L562.8 96.1 L563.9 97.8 L565.1 99.4 L566.2 101.1 L567.3 102.7 L568.3 104.4 L569.4 106.1 L570.5 107.8 L571.5 109.5 L572.6 111.2 L573.6 112.9 L574.8 114.5 L575.9 116.2 L577.1 117.8 L578.2 119.4 L579.5 121 L580.7 122.6 L581.9 124.1 L583.1 125.7 L584.4 127.3 L585.6 128.9 L586.8 130.5 L588 132.1 L589.2 133.7 L590.3 135.3 L591.4 137 L592.6 138.6 L593.6 140.3 L594.7 141.9 L595.8 143.6 L596.9 145.3 L598 146.9 L599.1 148.6 L600.3 150.2 L601.5 151.8 L602.7 153.4 L603.9 155 L605.1 156.6 L606.2 158.2 L607.3 159.8 L608.4 161.5 L609.4 163.2 L610.3 165 L611.3 166.7 L612.1 168.5 L613 170.3 L613.8 172.1 L614.7 174 L615.6 175.8 L616.4 177.6 L617.3 179.3 L618.2 181.1 L619.2 182.9 L620.1 184.6 L621.1 186.3 L622.2 188 L623.3 189.6 L624.4 191.2 L625.6 192.7 L626.9 194.1 L628.2 195.6 L628.8 196.3" stroke="#ff0000" stroke-width="2"/>
<path d="M533.9 60.5 L538.1 60.5 L536 56.8 Z" fill="none" stroke="#ff0000" stroke-width="0.6"/>
<path d="M571.4 115 L575.6 115 L573.5 111.3 Z" fill="none" stroke="#ff0000" stroke-width="0.6"/>
<path d="M592.7 143.9 L596.9 143.9 L594.8 140.2 Z" fill="none" stroke="#ff0000" stroke-width="0.6"/>
<path d="M609.9 169.5 L614.1 169.5 L612 165.8 Z" fill="none" stroke="#ff0000" stroke-width="0.6"/>
<path d="M620.9 192 L625.1 192 L623 188.3 Z" fill="none" stroke="#ff0000" stroke-width="0.6"/>
<path d="M486.4 8 L488.4 8.6 L490.4 9.3 L492.2 10.1 L493.9 11.1 L495.4 12.2 L496.8 13.5 L498 15.1 L499.2 16.7 L500.5 18.4 L501.7 20 L503 21.5 L504.3 23.1 L505.6 24.6 L506.9 26.1 L508.2 27.6 L509.5 29.2 L510.7 30.7 L512 32.2 L513.3 33.8 L514.5 35.3 L515.8 36.9 L517.1 38.5 L518.3 40 L519.5 41.6 L520.8 43.2 L522 44.8 L523.2 46.3 L524.4 47.9 L525.7 49.5 L526.9 51.1 L528.1 52.7 L529.3 54.2 L530.6 55.8 L531.8 57.4 L533 59 L534.2 60.6 L535.4 62.2 L536.6 63.8 L537.8 65.4 L539.1 66.9 L540.3 68.5 L541.6 70 L542.9 71.5 L544.2 73 L545.6 74.5 L546.9 76 L548.2 77.5 L549.5 79 L550.8 80.5 L552 82 L553.3 83.5 L554.5 85 L555.8 86.5 L557.2 88 L558.5 89.4 L559.9 90.9 L561.3 92.3 L562.7 93.7 L564.1 95.2 L565.5 96.6 L566.9 98.1 L568.3 99.5 L569.6 101 L571 102.5 L572.3 104 L573.6 105.5 L574.9 107 L576.2 108.5 L577.6 110 L578.9 111.5 L580.2 113 L581.5 114.5 L582.9 116 L584.2 117.5 L585.6 118.9 L587 120.4 L588.4 121.8 L589.8 123.2 L591.2 124.6 L592.7 126 L594.2 127.3 L595.7 128.6 L597.2 129.9 L598.8 131.1 L600.4 132.3 L601.9 133.5 L603.5 134.7 L605.1 135.9 L606.7 137.1 L608.2 138.4 L609.7 139.7 L611.2 141 L612.7 142.4 L614.1 143.8 L615.4 145.3 L616.8 146.7 L618.1 148.2 L619.4 149.8 L620.7 151.3 L622 152.8 L623.2 154.4 L624.5 156 L625.7 157.5 L627 159.1 L628.2 160.7 L629.5 162.2 L630.7 163.8 L632 165.3 L633.2 166.9 L634.5 168.4 L635.8 170 L637 171.5 L638.3 173 L639.6 174.6 L640.9 176.1 L642.2 177.7 L643.4 179.2 L644.7 180.8 L645.9 182.3 L647.1 183.9 L648.3 185.5 L649.5 187 L650.7 188.6 L651.8 190.2 L652.9 191.7 L654 193.3 L655.1 194.8 L656.1 196.3 L656.1 196.3" stroke="#0b6a2b" stroke-width="2"/>
<rect x="549.9" y="80.5" width="4.8" height="4.8" fill="none" stroke="#0b6a2b" stroke-width="0.6"/>
<rect x="593.8" y="127.4" width="4.8" height="4.8" fill="none" stroke="#0b6a2b" stroke-width="0.6"/>
<rect x="618" y="148.3" width="4.8" height="4.8" fill="none" stroke="#0b6a2b" stroke-width="0.6"/>
<rect x="635.2" y="170" width="4.8" height="4.8" fill="none" stroke="#0b6a2b" stroke-width="0.6"/>
<rect x="648.7" y="186.5" width="4.8" height="4.8" fill="none" stroke="#0b6a2b" stroke-width="0.6"/>
<path d="M486.4 8 L488.3 8.8 L490.1 9.7 L491.8 10.7 L493.4 11.8 L494.8 13.2 L496.1 14.7 L497.3 16.3 L498.5 18 L499.7 19.6 L500.8 21.3 L501.9 22.9 L503 24.6 L504.1 26.3 L505.2 27.9 L506.3 29.6 L507.4 31.3 L508.5 33 L509.5 34.7 L510.6 36.4 L511.7 38 L512.8 39.7 L514 41.3 L515.1 43 L516.3 44.6 L517.4 46.3 L518.6 47.9 L519.7 49.5 L520.9 51.2 L522 52.8 L523.2 54.4 L524.4 56 L525.6 57.6 L526.8 59.2 L528 60.8 L529.1 62.4 L530.3 64 L531.4 65.7 L532.5 67.3 L533.6 68.9 L534.8 70.6 L535.9 72.2 L537.1 73.8 L538.2 75.4 L539.5 77 L540.7 78.6 L541.9 80.1 L543.2 81.7 L544.4 83.3 L545.7 84.9 L546.9 86.4 L548.2 88 L549.4 89.5 L550.7 91.1 L552 92.6 L553.3 94.1 L554.6 95.7 L555.9 97.1 L557.2 98.6 L558.6 100.1 L559.9 101.6 L561.3 103.1 L562.6 104.5 L564 105.9 L565.4 107.4 L566.8 108.8 L568.2 110.2 L569.6 111.6 L571 113.1 L572.4 114.5 L573.8 116 L575.2 117.4 L576.5 118.9 L577.9 120.3 L579.3 121.8 L580.7 123.2 L582.1 124.6 L583.5 126.1 L584.9 127.5 L586.3 128.9 L587.8 130.3 L589.2 131.7 L590.6 133.1 L592.1 134.4 L593.5 135.8 L594.9 137.2 L596.4 138.6 L597.8 140 L599.2 141.5 L600.6 142.9 L602 144.3 L603.4 145.7 L604.8 147.1 L606.2 148.5 L607.7 149.9 L609.2 151.2 L610.7 152.5 L612.2 153.8 L613.7 155.1 L615.3 156.4 L616.8 157.6 L618.4 158.9 L620 160.2 L621.5 161.4 L623 162.7 L624.5 164 L626 165.3 L627.5 166.7 L629 168 L630.4 169.4 L631.8 170.8 L633.2 172.2 L634.7 173.6 L636.1 175 L637.5 176.4 L638.9 177.8 L640.3 179.2 L641.6 180.6 L642.9 182.1 L644.1 183.6 L645.2 185.2 L646.4 186.8 L647.5 188.4 L648.7 190 L649.9 191.6 L651.1 193.2 L652.3 194.8 L653.6 196.3 L653.6 196.3" stroke="#000000" stroke-width="2"/>
<path d="M549.7 90.5 L551 88.7 L552.3 90.5 L551 92.3 Z" fill="none" stroke="#444" stroke-width="0.5"/>
<path d="M595.7 139 L597 137.2 L598.3 139 L597 140.8 Z" fill="none" stroke="#444" stroke-width="0.5"/>
<path d="M620.7 162 L622 160.2 L623.3 162 L622 163.8 Z" fill="none" stroke="#444" stroke-width="0.5"/>
<path d="M638.7 178 L640 176.2 L641.3 178 L640 179.8 Z" fill="none" stroke="#444" stroke-width="0.5"/>
<path d="M647.7 191 L649 189.2 L650.3 191 L649 192.8 Z" fill="none" stroke="#444" stroke-width="0.5"/>
</g>
<path d="M486.4 7.7 V197 M679.8 7.7 V197" fill="none" stroke="#333" stroke-width="0.8"/>
<path d="M486 8.2 H680.2 M486 196.5 H680.2" fill="none" stroke="#000" stroke-width="1.0"/>
<line x1="514" y1="196.5" x2="514" y2="194.5" stroke="#3a3a3a" stroke-width="0.7"/>
<line x1="514" y1="8.2" x2="514" y2="10.2" stroke="#3a3a3a" stroke-width="0.7"/>
<line x1="541.7" y1="196.5" x2="541.7" y2="194.5" stroke="#3a3a3a" stroke-width="0.7"/>
<line x1="541.7" y1="8.2" x2="541.7" y2="10.2" stroke="#3a3a3a" stroke-width="0.7"/>
<line x1="569.3" y1="196.5" x2="569.3" y2="194.5" stroke="#3a3a3a" stroke-width="0.7"/>
<line x1="569.3" y1="8.2" x2="569.3" y2="10.2" stroke="#3a3a3a" stroke-width="0.7"/>
<line x1="596.9" y1="196.5" x2="596.9" y2="194.5" stroke="#3a3a3a" stroke-width="0.7"/>
<line x1="596.9" y1="8.2" x2="596.9" y2="10.2" stroke="#3a3a3a" stroke-width="0.7"/>
<line x1="624.5" y1="196.5" x2="624.5" y2="194.5" stroke="#3a3a3a" stroke-width="0.7"/>
<line x1="624.5" y1="8.2" x2="624.5" y2="10.2" stroke="#3a3a3a" stroke-width="0.7"/>
<line x1="652.2" y1="196.5" x2="652.2" y2="194.5" stroke="#3a3a3a" stroke-width="0.7"/>
<line x1="652.2" y1="8.2" x2="652.2" y2="10.2" stroke="#3a3a3a" stroke-width="0.7"/>
<line x1="486.4" y1="71" x2="489" y2="71" stroke="#111" stroke-width="1.2"/>
<line x1="679.8" y1="71" x2="677.2" y2="71" stroke="#111" stroke-width="1.2"/>
<line x1="486.4" y1="133.7" x2="489" y2="133.7" stroke="#111" stroke-width="1.2"/>
<line x1="679.8" y1="133.7" x2="677.2" y2="133.7" stroke="#111" stroke-width="1.2"/>
<text x="486.4" y="207.9" font-size="7.7" text-anchor="middle" fill="#111" stroke="#111" stroke-width="0.15">1</text>
<text x="514" y="207.9" font-size="7.7" text-anchor="middle" fill="#111" stroke="#111" stroke-width="0.15">1,1</text>
<text x="541.7" y="207.9" font-size="7.7" text-anchor="middle" fill="#111" stroke="#111" stroke-width="0.15">1,2</text>
<text x="569.3" y="207.9" font-size="7.7" text-anchor="middle" fill="#111" stroke="#111" stroke-width="0.15">1,3</text>
<text x="596.9" y="207.9" font-size="7.7" text-anchor="middle" fill="#111" stroke="#111" stroke-width="0.15">1,4</text>
<text x="624.5" y="207.9" font-size="7.7" text-anchor="middle" fill="#111" stroke="#111" stroke-width="0.15">1,5</text>
<text x="652.2" y="207.9" font-size="7.7" text-anchor="middle" fill="#111" stroke="#111" stroke-width="0.15">1,6</text>
<text x="679.8" y="207.9" font-size="7.7" text-anchor="middle" fill="#111" stroke="#111" stroke-width="0.15">1,7</text>
<text x="478.2" y="11.6" font-size="7.4" text-anchor="end" fill="#111" stroke="#111" stroke-width="0.15">10</text>
<text x="481.2" y="7.5" font-size="4.6" text-anchor="end" fill="#111" stroke="#111" stroke-width="0.15">0</text>
<text x="476.7" y="74.4" font-size="7.4" text-anchor="end" fill="#111" stroke="#111" stroke-width="0.15">10</text>
<text x="481.2" y="70.3" font-size="4.6" text-anchor="end" fill="#111" stroke="#111" stroke-width="0.15">-1</text>
<text x="476.7" y="137.1" font-size="7.4" text-anchor="end" fill="#111" stroke="#111" stroke-width="0.15">10</text>
<text x="481.2" y="133" font-size="4.6" text-anchor="end" fill="#111" stroke="#111" stroke-width="0.15">-2</text>
<text x="476.7" y="199.9" font-size="7.4" text-anchor="end" fill="#111" stroke="#111" stroke-width="0.15">10</text>
<text x="481.2" y="195.8" font-size="4.6" text-anchor="end" fill="#111" stroke="#111" stroke-width="0.15">-3</text>
<text transform="translate(583.1 222.3) scale(0.955 1)" font-size="8.4" text-anchor="middle" fill="#111" stroke="#111" stroke-width="0.15">Threshold</text>
<text transform="translate(465 102.2) rotate(-90)" font-size="7.95" text-anchor="middle" fill="#111" stroke="#111" stroke-width="0.15">Probability of False Alarm</text>
<rect x="633.9" y="13.3" width="44.4" height="41.1" fill="#fff" stroke="#1a1a1a" stroke-width="1.2"/>
<line x1="637.8" y1="21.1" x2="658.7" y2="21.1" stroke="#0000ff" stroke-width="1.4"/>
<circle cx="648.2" cy="21.1" r="2.1" fill="none" stroke="#0000ff" stroke-width="0.7"/>
<text x="660.2" y="23.8" font-size="7.4" fill="#0000ff" stroke="#0000ff" stroke-width="0.15">-0.1</text>
<line x1="637.8" y1="30.2" x2="658.7" y2="30.2" stroke="#ff0000" stroke-width="1.4"/>
<path d="M646.1 31.7 L650.4 31.7 L648.2 28 Z" fill="none" stroke="#ff0000" stroke-width="0.7"/>
<text x="660.2" y="32.9" font-size="7.4" fill="#ff0000" stroke="#ff0000" stroke-width="0.15">0</text>
<line x1="637.8" y1="38.7" x2="658.7" y2="38.7" stroke="#0b6a2b" stroke-width="1.4"/>
<rect x="645.9" y="36.3" width="4.8" height="4.8" fill="none" stroke="#0b6a2b" stroke-width="0.7"/>
<text x="660.2" y="41.4" font-size="7.4" fill="#0b6a2b" stroke="#0b6a2b" stroke-width="0.15">0.1</text>
<line x1="637.8" y1="47.4" x2="658.7" y2="47.4" stroke="#2a2a2a" stroke-width="1.25"/>
<path d="M647 47.4 L648.2 45.6 L649.5 47.4 L648.2 49.2 Z" fill="none" stroke="#444" stroke-width="0.5"/>
<text x="660.2" y="50.1" font-size="7.4" fill="#000000" stroke="#000000" stroke-width="0.15">0,2</text>
<text x="579.6" y="240.2" font-family="'Liberation Serif', 'Times New Roman', serif" font-weight="bold" font-size="14.6" text-anchor="middle" fill="#111" stroke="#111" stroke-width="0.3">(c)</text>
</svg>
</body></html>
